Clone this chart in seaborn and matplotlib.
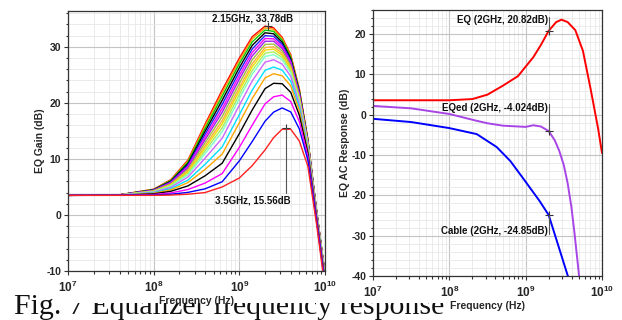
import matplotlib
matplotlib.use("Agg")
import matplotlib.pyplot as plt
import matplotlib.ticker as mticker
from matplotlib.patches import Rectangle
import numpy as np
import pandas as pd
import seaborn as sns

# left panel: EQ gain sweep, 19 peaking settings (bottom -> top)
freq_sweep = [1e7, 4e7, 1e8, 1.585e8, 2.512e8, 3.981e8, 6.31e8, 1e9, 1.413e9,
              1.995e9, 2.512e9, 3.162e9, 3.981e9, 5.012e9, 6.31e9, 7.943e9, 1e10]
eq_c00 = [3.5, 3.5, 3.5, 3.55, 3.7, 4.0, 5.0, 6.6, 8.8, 11.6, 13.8, 15.3, 15.3, 13.2, 8.7, -1.5, -13.0]
eq_c01 = [3.5, 3.51, 3.56, 3.7, 4.03, 4.66, 5.93, 9.66, 13.1, 16.73, 18.35, 19.1, 18.39, 15.36, 9.81, -0.92, -12.42]
eq_c02 = [3.5, 3.51, 3.65, 3.93, 4.54, 5.69, 7.39, 12.06, 16.02, 19.82, 21.09, 21.4, 20.25, 16.66, 10.49, -0.57, -12.07]
eq_c03 = [3.5, 3.52, 3.77, 4.22, 5.19, 6.99, 9.24, 14.52, 18.74, 22.54, 23.5, 23.42, 21.88, 17.8, 11.08, -0.26, -11.76]
eq_c04 = [3.5, 3.53, 3.87, 4.48, 5.77, 8.13, 10.86, 16.44, 20.78, 24.46, 25.21, 24.84, 23.04, 18.61, 11.49, -0.04, -11.54]
eq_c05 = [3.5, 3.54, 3.95, 4.69, 6.22, 9.04, 12.15, 17.9, 22.28, 25.81, 26.4, 25.85, 23.85, 19.18, 11.79, 0.11, -11.39]
eq_c06 = [3.5, 3.55, 4.05, 4.93, 6.77, 10.13, 13.7, 19.57, 23.91, 27.27, 27.7, 26.93, 24.73, 19.79, 12.1, 0.27, -11.23]
eq_c07 = [3.5, 3.56, 4.13, 5.12, 7.18, 10.95, 14.86, 20.79, 25.11, 28.29, 28.6, 27.68, 25.34, 20.22, 12.32, 0.39, -11.11]
eq_c08 = [3.5, 3.56, 4.17, 5.23, 7.42, 11.44, 15.55, 21.49, 25.77, 28.86, 29.11, 28.11, 25.69, 20.46, 12.45, 0.45, -11.05]
eq_c09 = [3.5, 3.56, 4.21, 5.34, 7.66, 11.93, 16.24, 22.18, 26.44, 29.41, 29.6, 28.52, 26.02, 20.7, 12.57, 0.52, -10.98]
eq_c10 = [3.5, 3.57, 4.25, 5.43, 7.87, 12.34, 16.83, 22.76, 26.99, 29.88, 30.01, 28.86, 26.3, 20.89, 12.67, 0.57, -10.93]
eq_c11 = [3.5, 3.57, 4.3, 5.55, 8.13, 12.86, 17.56, 23.48, 27.68, 30.43, 30.5, 29.27, 26.63, 21.12, 12.79, 0.63, -10.87]
eq_c12 = [3.5, 3.58, 4.35, 5.67, 8.4, 13.41, 18.34, 24.23, 28.37, 31.0, 31.01, 29.7, 26.98, 21.37, 12.91, 0.7, -10.8]
eq_c13 = [3.5, 3.58, 4.39, 5.78, 8.64, 13.88, 19.01, 24.9, 28.99, 31.49, 31.44, 30.06, 27.27, 21.57, 13.02, 0.75, -10.75]
eq_c14 = [3.5, 3.59, 4.44, 5.89, 8.9, 14.39, 19.74, 25.58, 29.62, 32.0, 31.89, 30.44, 27.58, 21.78, 13.13, 0.81, -10.69]
eq_c15 = [3.5, 3.59, 4.48, 6.01, 9.16, 14.92, 20.48, 26.29, 30.26, 32.51, 32.34, 30.81, 27.88, 22.0, 13.24, 0.87, -10.63]
eq_c16 = [3.5, 3.59, 4.53, 6.13, 9.42, 15.43, 21.21, 26.99, 30.88, 32.99, 32.77, 31.18, 28.17, 22.2, 13.35, 0.92, -10.58]
eq_c17 = [3.5, 3.6, 4.57, 6.22, 9.63, 15.86, 21.82, 27.55, 31.41, 33.39, 33.13, 31.47, 28.41, 22.37, 13.43, 0.97, -10.53]
eq_c18 = [3.5, 3.6, 4.6, 6.3, 9.8, 16.2, 22.3, 28.0, 31.8, 33.7, 33.4, 31.7, 28.6, 22.5, 13.5, 1.0, -10.5]
sweep_colors = ["#ff2020", "#0000ff", "#ff00ff", "#000000", "#ffa500", "#00e0ff",
                "#cc66ff", "#80ffc8", "#a8f060", "#f0e000", "#ffb040", "#a0c040",
                "#a020f0", "#ff00ff", "#2020ff", "#000000", "#00cc00", "#ff9900", "#ff0000"]

# right panel: EQ, cable and equalized cable responses
eq_freq = [1e7, 3.16e7, 1e8, 2e8, 3.16e8, 5.01e8, 7.94e8, 1.26e9, 1.58e9, 2e9, 2.51e9,
           2.95e9, 3.55e9, 4.47e9, 5.62e9, 7.08e9, 8.91e9, 1e10]
eq_db = [3.6, 3.6, 3.6, 3.9, 5.0, 7.2, 9.6, 14.3, 17.3, 20.82, 23.0, 23.6, 23.0, 21.0,
         15.9, 6.5, -3.5, -9.5]
eqed_freq = [1e7, 3.16e7, 1e8, 2.29e8, 3.16e8, 5.01e8, 1e9, 1.26e9, 1.58e9, 2e9, 2.4e9,
             2.75e9, 3.16e9, 3.55e9, 3.98e9, 4.37e9, 5.01e9, 5.25e9]
eqed_db = [2.2, 1.6, 0.2, -1.5, -2.1, -2.7, -3.0, -2.6, -2.9, -4.024, -6.3, -8.9,
           -12.5, -17.0, -23.0, -29.5, -40.0, -44.0]
cable_freq = [1e7, 3.16e7, 1e8, 2.29e8, 4.17e8, 6.31e8, 9.12e8, 1.51e9, 2e9, 2.63e9,
              3.57e9, 3.98e9]
cable_db = [-1.0, -1.8, -3.3, -4.8, -8.0, -11.5, -15.6, -21.3, -24.85, -32.0, -40.0, -44.0]

sns.set_theme(style="white")
plt.rcParams["font.family"] = ["Liberation Sans", "DejaVu Sans"]
plt.rcParams["font.weight"] = "bold"
plt.rcParams["axes.unicode_minus"] = False
plt.rcParams["mathtext.fontset"] = "custom"
plt.rcParams["mathtext.rm"] = "Liberation Sans:bold"
plt.rcParams["mathtext.bf"] = "Liberation Sans:bold"

fig = plt.figure(figsize=(6.22, 3.2), dpi=100)

# caption sits behind the chart image, partly hidden
fig.text(14 / 622, 6 / 320, "Fig. 7 Equalizer frequency response", fontsize=21.5,
         family=["Liberation Serif", "DejaVu Serif"], fontweight="normal",
         color="#111111", zorder=-2)
fig.add_artist(Rectangle((55 / 622, 17 / 320), 1, 1, transform=fig.transFigure,
                         facecolor="white", edgecolor="none", zorder=-1))

ax1 = fig.add_axes([68 / 622, 49 / 320, 257 / 622, 260 / 320])
ax2 = fig.add_axes([373 / 622, 44 / 320, 229 / 622, 266 / 320])

sweep = [eq_c00, eq_c01, eq_c02, eq_c03, eq_c04, eq_c05, eq_c06, eq_c07, eq_c08, eq_c09,
         eq_c10, eq_c11, eq_c12, eq_c13, eq_c14, eq_c15, eq_c16, eq_c17, eq_c18]
rows = []
for k, vals in enumerate(sweep):
    for f, g in zip(freq_sweep, vals):
        rows.append({"freq": f, "gain": g, "curve": k})
df_sweep = pd.DataFrame(rows)
sns.lineplot(data=df_sweep, x="freq", y="gain", hue="curve",
             hue_order=list(range(18, -1, -1)),
             palette=dict(zip(range(19), sweep_colors)),
             estimator=None, sort=False, legend=False, lw=1.0, ax=ax1)

df_resp = pd.concat([
    pd.DataFrame({"freq": eq_freq, "db": eq_db, "trace": "EQ"}),
    pd.DataFrame({"freq": eqed_freq, "db": eqed_db, "trace": "EQed"}),
    pd.DataFrame({"freq": cable_freq, "db": cable_db, "trace": "Cable"}),
])
sns.lineplot(data=df_resp, x="freq", y="db", hue="trace",
             palette={"EQ": "#ff0000", "EQed": "#a845e6", "Cable": "#0000ff"},
             estimator=None, sort=False, legend=False, lw=1.4, ax=ax2)

for ax in (ax1, ax2):
    ax.set_xscale("log")
    ax.set_xlim(1e7, 1e10)
    ax.xaxis.set_major_locator(mticker.FixedLocator([1e7, 1e8, 1e9, 1e10]))
    ax.xaxis.set_major_formatter(mticker.FixedFormatter(
        [r"$10^{7}$", r"$10^{8}$", r"$10^{9}$", r"$10^{10}$"]))
    ax.xaxis.set_minor_locator(mticker.LogLocator(base=10, subs=np.arange(2, 10), numticks=20))
    ax.xaxis.set_minor_formatter(mticker.NullFormatter())
    ax.yaxis.set_major_locator(mticker.MultipleLocator(10))
    ax.yaxis.set_minor_locator(mticker.MultipleLocator(2))
    ax.grid(which="major", color="#c4c4c4", lw=0.8)
    ax.grid(which="minor", color="#e8e8e8", lw=0.6)
    ax.set_axisbelow(True)
    ax.tick_params(which="both", direction="out", bottom=True, left=True,
                   color="#333333", width=0.8)
    ax.tick_params(which="major", length=3, pad=2)
    ax.tick_params(which="minor", length=1.8)
    ax.tick_params(axis="y", labelsize=7.5)
    ax.tick_params(axis="x", labelsize=8.5, pad=3)
    for s in ax.spines.values():
        s.set_color("#333333")
        s.set_linewidth(0.9)
    ax.set_xlabel("Frequency (Hz)", fontsize=7.5, fontweight="bold", labelpad=1)

ax1.set_ylim(-10, 36.4)
ax1.set_ylabel("EQ Gain (dB)", fontsize=7.5, fontweight="bold", labelpad=0.5)
ax2.set_ylim(-40, 26)
ax2.set_ylabel("EQ AC Response (dB)", fontsize=7.5, fontweight="bold", labelpad=0.5)

txt = dict(fontsize=7, fontweight="bold", color="#111111")
# left markers
ax1.plot([2.15e9], [33.78], marker="+", ms=6, mew=0.8, color="#333333")
ax1.plot([3.5e9], [15.56], marker="+", ms=6, mew=0.8, color="#333333")
ax1.plot([3.5e9, 3.5e9], [15.56, 3.9], color="#555555", lw=0.8)
ax1.text(1.44e9, 35.0, "2.15GHz, 33.78dB", ha="center", va="center", **txt)
ax1.text(1.44e9, 2.6, "3.5GHz, 15.56dB", ha="center", va="center", **txt)

# right markers
for y0, y1, y2, label in [(20.82, 24.2, 23.6, "EQ (2GHz, 20.82dB)"),
                          (-4.024, 2.6, 1.7, "EQed (2GHz, -4.024dB)"),
                          (-24.85, -29.6, -28.8, "Cable (2GHz, -24.85dB)")]:
    ax2.plot([2e9], [y0], marker="+", ms=6, mew=0.8, color="#333333")
    ax2.plot([2e9, 2e9], [y0, y1], color="#555555", lw=0.8)
    ax2.text(1.95e9, y2, label, ha="right", va="center", **txt)

fig.savefig("out.png", dpi=100)
